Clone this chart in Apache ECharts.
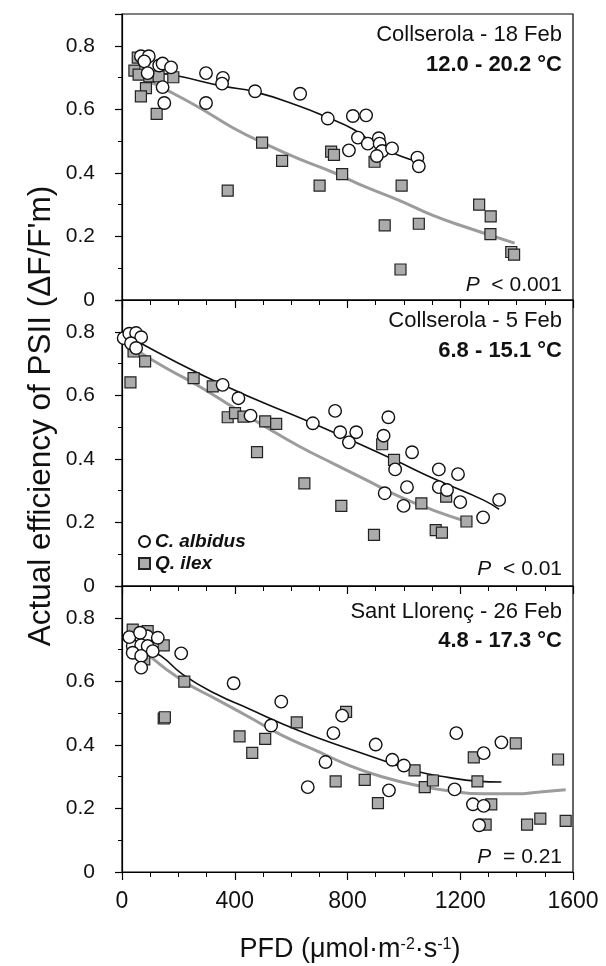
<!DOCTYPE html>
<html>
<head>
<meta charset="utf-8">
<script src="https://cdn.jsdelivr.net/npm/echarts@6/dist/echarts.min.js"></script>
<style>
  html, body { margin: 0; padding: 0; background: #fff; }
  #chart { width: 606px; height: 966px; }
</style>
</head>
<body>
<div id="chart"></div>
<script>
// [PFD, efficiency]
// panel 1 : Collserola - 18 Feb
var albidus1 = [[67,0.767],[95,0.767],[79,0.751],[91,0.714],[132,0.738],[144,0.744],[174,0.732],[144,0.670],[150,0.620],
  [298,0.714],[298,0.620],[358,0.699],[355,0.681],[472,0.657],[632,0.649],[730,0.571],[819,0.579],[866,0.581],[837,0.511],
  [872,0.492],[911,0.509],[914,0.492],[923,0.469],[904,0.453],[805,0.471],[958,0.477],[1048,0.448],[1053,0.421]];
var ilex1 = [[56,0.763],[44,0.722],[59,0.709],[85,0.667],[67,0.641],[97,0.704],[130,0.704],[182,0.701],[123,0.586],
  [375,0.344],[497,0.495],[568,0.438],[701,0.360],[742,0.467],[752,0.457],[781,0.396],[896,0.435],[932,0.235],[992,0.360],
  [1053,0.240],[988,0.096],[1267,0.300],[1308,0.263],[1307,0.207],[1381,0.151],[1391,0.143]];
var fitAlbidus1 = [[97,0.717],[186,0.707],[357,0.673],[472,0.655],[630,0.610],[730,0.574],[819,0.538],[902,0.490],[985,0.454],[1062,0.433]];
var fitIlex1 = [[97,0.688],[156,0.662],[275,0.605],[393,0.542],[511,0.490],[630,0.443],[748,0.402],[866,0.355],[985,0.313],[1103,0.266],[1221,0.229],[1393,0.179]];

// panel 2 : Collserola - 5 Feb
var albidus2 = [[6,0.780],[26,0.794],[50,0.796],[68,0.783],[32,0.764],[50,0.749],[357,0.633],[413,0.591],[456,0.536],
  [677,0.512],[756,0.551],[774,0.484],[805,0.452],[831,0.484],[928,0.473],[945,0.531],[969,0.367],[932,0.292],[1011,0.311],
  [999,0.252],[1029,0.421],[1124,0.367],[1124,0.311],[1153,0.302],[1192,0.352],[1200,0.264],[1281,0.216],[1338,0.271]];
var ilex2 = [[30,0.641],[41,0.738],[82,0.707],[254,0.654],[322,0.628],[375,0.531],[401,0.544],[431,0.533],[508,0.518],
  [547,0.510],[479,0.421],[647,0.323],[778,0.252],[894,0.161],[923,0.446],[965,0.397],[1150,0.281],[1062,0.260],
  [1113,0.176],[1135,0.168],[1222,0.203]];
var fitAlbidus2 = [[44,0.775],[357,0.633],[677,0.512],[965,0.397],[1103,0.339],[1281,0.271],[1338,0.241]];
var fitIlex2 = [[50,0.743],[156,0.686],[275,0.628],[393,0.563],[511,0.500],[630,0.439],[748,0.386],[866,0.334],[985,0.281],[1103,0.239],[1222,0.203]];

// panel 3 : Sant Llorenç - 26 Feb
var albidus3 = [[46,0.727],[89,0.742],[127,0.737],[38,0.711],[68,0.714],[91,0.711],[38,0.690],[109,0.695],[68,0.680],
  [68,0.643],[26,0.739],[64,0.753],[210,0.688],[396,0.594],[565,0.536],[529,0.461],[750,0.437],[781,0.492],[722,0.346],
  [659,0.267],[900,0.401],[959,0.353],[1000,0.335],[947,0.257],[1186,0.437],[1283,0.374],[1346,0.408],[1180,0.260],
  [1245,0.213],[1283,0.208],[1267,0.147]];
var ilex3 = [[38,0.763],[91,0.758],[148,0.713],[79,0.669],[148,0.483],[152,0.487],[221,0.599],[417,0.427],[508,0.419],
  [462,0.375],[620,0.471],[795,0.504],[758,0.285],[861,0.290],[908,0.217],[1038,0.320],[1074,0.267],[1103,0.288],
  [1248,0.361],[1261,0.285],[1310,0.213],[1290,0.149],[1397,0.405],[1437,0.149],[1484,0.168],[1547,0.354],[1574,0.161]];
var fitAlbidus3 = [[97,0.695],[138,0.680],[215,0.622],[334,0.560],[452,0.513],[570,0.466],[689,0.424],[807,0.387],[926,0.351],[1044,0.317],[1162,0.297],[1257,0.286],[1346,0.283]];
var fitIlex3 = [[97,0.680],[215,0.602],[334,0.544],[452,0.487],[570,0.429],[689,0.382],[807,0.335],[926,0.299],[1044,0.273],[1162,0.255],[1281,0.246],[1399,0.246],[1482,0.252],[1574,0.259]];

var panelTitles = ['Collserola - 18 Feb', 'Collserola - 5 Feb', 'Sant Llorenç - 26 Feb'];
var panelTemps = ['12.0 - 20.2 °C', '6.8 - 15.1 °C', '4.8 - 17.3 °C'];
var panelP = ['< 0.001', '< 0.01', '= 0.21'];

var albidusAll = [albidus1, albidus2, albidus3];
var ilexAll = [ilex1, ilex2, ilex3];
var fitAlbidusAll = [fitAlbidus1, fitAlbidus2, fitAlbidus3];
var fitIlexAll = [fitIlex1, fitIlex2, fitIlex3];

var FONT = 'Liberation Sans, Arial, sans-serif';
var gridTops = [14, 300, 586];
var gridH = 286;

var grids = [], xAxes = [], yAxes = [], series = [], graphics = [];

for (var i = 0; i < 3; i++) {
  grids.push({
    left: 122, width: 451, top: gridTops[i], height: gridH,
    show: true, borderColor: '#000', borderWidth: 1.2
  });
  xAxes.push({
    type: 'value', gridIndex: i, min: 0, max: 1600, interval: 400,
    axisLine: { show: true, lineStyle: { color: '#000', width: 1.2 } },
    axisTick: { show: true, length: 8, lineStyle: { color: '#000', width: 1.2 } },
    minorTick: { show: true, splitNumber: 4, length: 5, lineStyle: { color: '#000', width: 1 } },
    splitLine: { show: false },
    axisLabel: {
      show: i === 2, margin: 18, fontFamily: FONT, fontSize: 23, color: '#111',
      formatter: function (v) { return String(v); }
    }
  });
  yAxes.push({
    type: 'value', gridIndex: i, min: 0, max: 0.9, interval: 0.2,
    axisLine: { show: true, lineStyle: { color: '#000', width: 1.2 } },
    axisTick: { show: true, length: 7, lineStyle: { color: '#000', width: 1.2 } },
    minorTick: { show: true, splitNumber: 2, length: 4, lineStyle: { color: '#000', width: 1 } },
    splitLine: { show: false },
    axisLabel: {
      margin: 27, showMaxLabel: false,
      fontFamily: 'Liberation Sans Narrow, Liberation Sans, sans-serif', fontSize: 21, color: '#111',
      formatter: function (v) { return v === 0 ? '0' : v.toFixed(1); }
    }
  });

  series.push({
    name: 'fit-ilex-' + i, type: 'line', xAxisIndex: i, yAxisIndex: i,
    data: fitIlexAll[i], showSymbol: false, symbol: 'none', smooth: true, z: 2,
    lineStyle: { color: '#9c9c9c', width: 3 }, silent: true
  });
  series.push({
    name: 'fit-albidus-' + i, type: 'line', xAxisIndex: i, yAxisIndex: i,
    data: fitAlbidusAll[i], showSymbol: false, symbol: 'none', smooth: true, z: 2,
    lineStyle: { color: '#111', width: 1.6 }, silent: true
  });
  series.push({
    name: 'Q. ilex', type: 'scatter', xAxisIndex: i, yAxisIndex: i,
    data: ilexAll[i], symbol: 'rect', symbolSize: 11, z: 3,
    itemStyle: { color: '#ababab', borderColor: '#222', borderWidth: 1.2, opacity: 1 }
  });
  series.push({
    name: 'C. albidus', type: 'scatter', xAxisIndex: i, yAxisIndex: i,
    data: albidusAll[i], symbol: 'circle', symbolSize: 12.5, z: 4,
    itemStyle: { color: '#fff', borderColor: '#111', borderWidth: 1.4, opacity: 1 }
  });
}

var titleY = [35.5, 322, 613];
var tempY = [66, 351.5, 642];
var pY = [285.5, 570, 858];
for (var k = 0; k < 3; k++) {
  graphics.push({
    type: 'text', right: 44, top: titleY[k] - 12,
    style: { text: panelTitles[k], font: '22px ' + FONT, fill: '#111' }
  });
  graphics.push({
    type: 'text', right: 44, top: tempY[k] - 12,
    style: { text: panelTemps[k], font: 'bold 22px ' + FONT, fill: '#111' }
  });
  graphics.push({
    type: 'text', right: 44, top: pY[k] - 11,
    style: {
      text: '{i|P}  ' + panelP[k],
      font: '21px ' + FONT, fill: '#111',
      rich: { i: { fontStyle: 'italic', fontSize: 21, fontFamily: FONT } }
    }
  });
}

// y axis title, rotated
graphics.push({
  type: 'text', x: 41, y: 416, rotation: Math.PI / 2,
  style: {
    text: "Actual efficiency of PSII (ΔF/F'm)", font: '31.5px ' + FONT, fill: '#111',
    align: 'center', verticalAlign: 'middle'
  }
});
// x axis title with superscripts
graphics.push({
  type: 'text', x: 350, y: 950,
  style: {
    text: 'PFD (μmol·m{s|-2}·s{s|-1})', font: '27px ' + FONT, fill: '#111',
    align: 'center', verticalAlign: 'middle',
    rich: { s: { fontSize: 16, fontFamily: FONT, verticalAlign: 'top', padding: [0, 0, 11, 0] } }
  }
});

var myChart = echarts.init(document.getElementById('chart'));
myChart.setOption({
  backgroundColor: '#fff',
  animation: false,
  grid: grids,
  xAxis: xAxes,
  yAxis: yAxes,
  legend: {
    data: [{ name: 'C. albidus', icon: 'circle' }, { name: 'Q. ilex', icon: 'rect' }],
    orient: 'vertical', left: 133, top: 527, itemWidth: 11, itemHeight: 11, itemGap: 3,
    selectedMode: false,
    textStyle: { fontFamily: FONT, fontSize: 19, fontWeight: 'bold', fontStyle: 'italic', color: '#111' }
  },
  series: series,
  graphic: graphics
});
</script>
</body>
</html>
